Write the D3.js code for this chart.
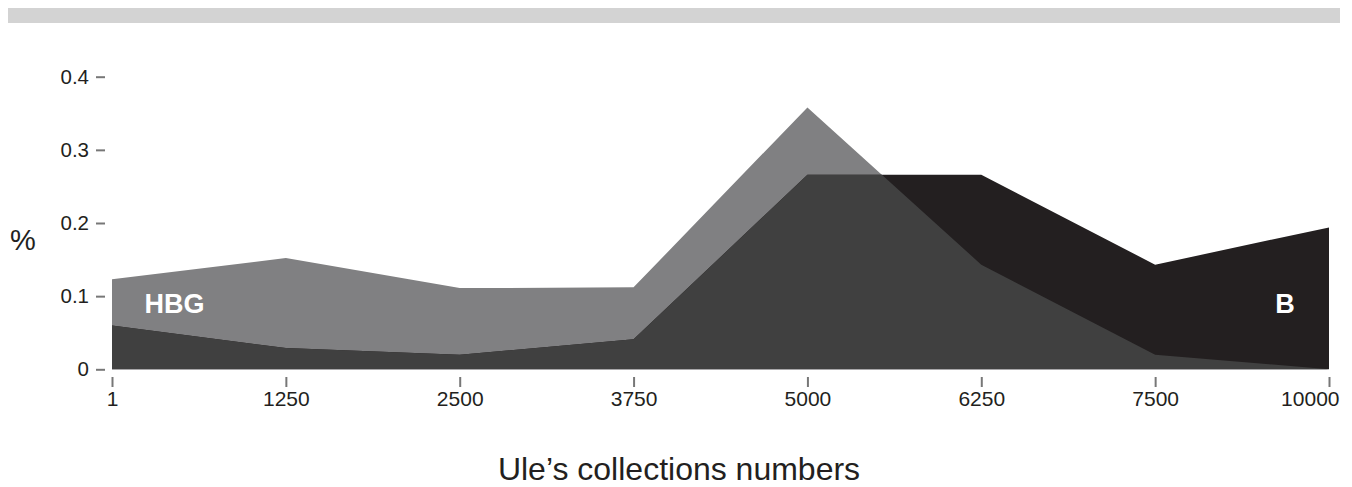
<!DOCTYPE html>
<html><head><meta charset="utf-8">
<script src="https://cdn.jsdelivr.net/npm/d3@7"></script>
<style>body{margin:0;background:#fff}svg{display:block;font-family:"Liberation Sans",Arial,sans-serif}</style>
</head><body>
<svg id="c" width="1352" height="487"></svg>
<script>
const categories = ["1","1250","2500","3750","5000","6250","7500","10000"];
const hbgValues = [0.123,0.152,0.111,0.112,0.358,0.143,0.02,0];
const bValues = [0.06,0.029,0.02,0.041,0.266,0.266,0.143,0.194];
const yTicks = [0,0.1,0.2,0.3,0.4];
const yTickLabels = ["0","0.1","0.2","0.3","0.4"];

const svg = d3.select("#c");
svg.append("rect").attr("x",8).attr("y",8).attr("width",1332).attr("height",15).attr("fill","#d3d3d3");

const x = d3.scalePoint().domain(categories).range([112,1329]);
const y = d3.scaleLinear().domain([0,0.4]).range([369.3,76.7]);

const area = vals => d3.area().x((d,i)=>x(categories[i])).y0(y(0)).y1(d=>y(d))(vals);

svg.append("defs").append("clipPath").attr("id","clipB").append("path").attr("d",area(bValues));
svg.append("path").attr("d",area(hbgValues)).attr("fill","#808082");
svg.append("path").attr("d",area(bValues)).attr("fill","#231f20");
svg.append("path").attr("d",area(hbgValues)).attr("fill","#404040").attr("clip-path","url(#clipB)");

// y axis
const yAxis = d3.axisLeft(y).tickValues(yTicks).tickFormat((d,i)=>yTickLabels[i]).tickSize(9).tickPadding(7);
const gy = svg.append("g").attr("transform","translate(105,0)").call(yAxis);
gy.select(".domain").remove();
gy.selectAll(".tick line").attr("stroke","#777").attr("stroke-width",2);
gy.selectAll(".tick text").attr("fill","#231f20").style("font-size","20.5px").style("font-family","Liberation Sans, Arial, sans-serif");

// x axis
const xAxis = d3.axisBottom(x).tickSize(10).tickPadding(4);
const gx = svg.append("g").attr("transform","translate(0,377)").call(xAxis);
gx.select(".domain").remove();
gx.selectAll(".tick line").attr("stroke","#777").attr("stroke-width",2);
gx.selectAll(".tick text").attr("fill","#231f20").style("font-size","21px").style("font-family","Liberation Sans, Arial, sans-serif");
gx.selectAll(".tick text").filter(d=>d===categories[categories.length-1]).attr("text-anchor","end").attr("x",10);

svg.append("text").attr("x",23).attr("y",250).attr("text-anchor","middle").attr("fill","#231f20").style("font-size","29px").text("%");
svg.append("text").attr("x",679).attr("y",480).attr("text-anchor","middle").attr("fill","#231f20").style("font-size","32px").text("Ule’s collections numbers");

svg.append("text").attr("x",174.5).attr("y",313).attr("text-anchor","middle").attr("fill","#fff").style("font-size","27px").style("font-weight","bold").text("HBG");
svg.append("text").attr("x",1285).attr("y",313).attr("text-anchor","middle").attr("fill","#fff").style("font-size","27px").style("font-weight","bold").text("B");
</script>
</body></html>
